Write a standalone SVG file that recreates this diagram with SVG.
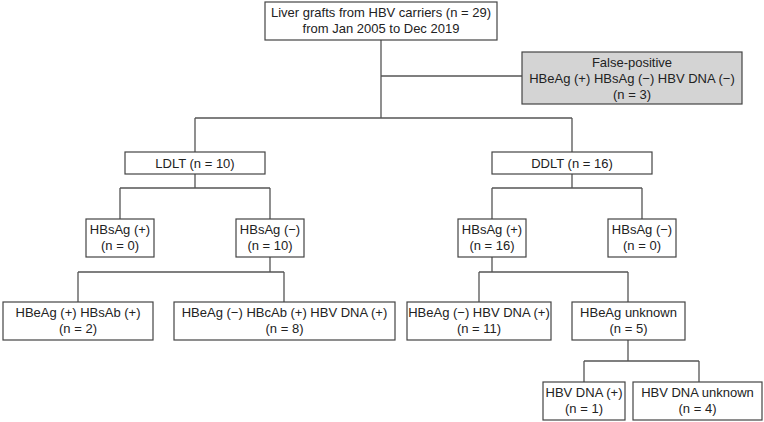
<svg xmlns="http://www.w3.org/2000/svg" width="764" height="422" viewBox="0 0 764 422">
<style>
.box{fill:#fff;stroke:#444;stroke-width:1.2}
.grey{fill:#d4d4d4}
.ln{fill:none;stroke:#555;stroke-width:1.3}
text{font-family:"Liberation Sans",Arial,sans-serif;font-size:13px;fill:#222;text-anchor:middle}
</style>
<rect width="764" height="422" fill="#fff"/>
<g id="connectors">
<path class="ln" d="M381 40V118M381 76H522M195 118H572M195 118V152M572 118V152"/>
<path class="ln" d="M195 174V188M120 188H270M120 188V219M270 188V219"/>
<path class="ln" d="M572 174V188M492 188H642M492 188V219M642 188V219"/>
<path class="ln" d="M270 257V272M78 272H284M78 272V302M284 272V302"/>
<path class="ln" d="M492 257V272M479 272H628M479 272V302M628 272V302"/>
<path class="ln" d="M628 340V361M584 361H699M584 361V382M699 361V382"/>
</g>
<g id="root"><rect class="box" x="265" y="2" width="232" height="38"/><text x="381" y="17">Liver grafts from HBV carriers (n = 29)</text><text x="381" y="33">from Jan 2005 to Dec 2019</text></g>
<g id="falsepos"><rect class="box grey" x="522" y="52" width="220" height="52"/><text x="632" y="67">False-positive</text><text x="632" y="83">HBeAg (+) HBsAg (−) HBV DNA (−)</text><text x="632" y="99">(n = 3)</text></g>
<g id="ldlt"><rect class="box" x="125" y="152" width="140" height="22"/><text x="195" y="168">LDLT (n = 10)</text></g>
<g id="ddlt"><rect class="box" x="492" y="152" width="160" height="22"/><text x="572" y="168">DDLT (n = 16)</text></g>
<g id="l-hbsag-pos"><rect class="box" x="86" y="219" width="68" height="38"/><text x="120" y="234">HBsAg (+)</text><text x="120" y="250">(n = 0)</text></g>
<g id="l-hbsag-neg"><rect class="box" x="236" y="219" width="68" height="38"/><text x="270" y="234">HBsAg (−)</text><text x="270" y="250">(n = 10)</text></g>
<g id="d-hbsag-pos"><rect class="box" x="458" y="219" width="68" height="38"/><text x="492" y="234">HBsAg (+)</text><text x="492" y="250">(n = 16)</text></g>
<g id="d-hbsag-neg"><rect class="box" x="608" y="219" width="68" height="38"/><text x="642" y="234">HBsAg (−)</text><text x="642" y="250">(n = 0)</text></g>
<g id="l-hbeag-pos"><rect class="box" x="3" y="302" width="150" height="38"/><text x="78" y="317">HBeAg (+) HBsAb (+)</text><text x="78" y="333">(n = 2)</text></g>
<g id="l-hbeag-neg"><rect class="box" x="174" y="302" width="221" height="38"/><text x="284.5" y="317">HBeAg (−) HBcAb (+) HBV DNA (+)</text><text x="284.5" y="333">(n = 8)</text></g>
<g id="d-hbeag-neg"><rect class="box" x="407" y="302" width="144" height="38"/><text x="479" y="317">HBeAg (−) HBV DNA (+)</text><text x="479" y="333">(n = 11)</text></g>
<g id="d-hbeag-unk"><rect class="box" x="572" y="302" width="113" height="38"/><text x="628.5" y="317">HBeAg unknown</text><text x="628.5" y="333">(n = 5)</text></g>
<g id="dna-pos"><rect class="box" x="543" y="382" width="82" height="38"/><text x="584" y="397">HBV DNA (+)</text><text x="584" y="413">(n = 1)</text></g>
<g id="dna-unk"><rect class="box" x="633" y="382" width="129" height="38"/><text x="697.5" y="397">HBV DNA unknown</text><text x="697.5" y="413">(n = 4)</text></g>
</svg>
